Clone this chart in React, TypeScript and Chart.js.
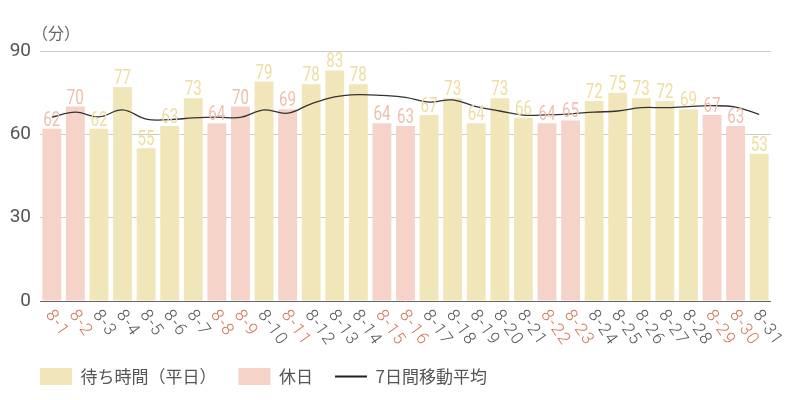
import { useEffect, useRef } from "react";
import { Chart, registerables } from "chart.js";
Chart.register(...registerables);

const dates = [
  "8-1", "8-2", "8-3", "8-4", "8-5", "8-6", "8-7", "8-8", "8-9", "8-10",
  "8-11", "8-12", "8-13", "8-14", "8-15", "8-16", "8-17", "8-18", "8-19", "8-20",
  "8-21", "8-22", "8-23", "8-24", "8-25", "8-26", "8-27", "8-28", "8-29", "8-30", "8-31",
];
const waitMinutes = [62, 70, 62, 77, 55, 63, 73, 64, 70, 79, 69, 78, 83, 78, 64, 63, 67, 73, 64, 73, 66, 64, 65, 72, 75, 73, 72, 69, 67, 63, 53];
const holidays = ["8-1", "8-2", "8-8", "8-9", "8-11", "8-15", "8-16", "8-22", "8-23", "8-29", "8-30"];
const movingAvg = [66.2, 68.0, 66.3, 68.8, 65.5, 65.3, 65.9, 66.2, 66.1, 68.8, 67.6, 71.0, 73.5, 74.3, 74.0, 73.3, 71.6, 72.4, 70.0, 68.4, 66.9, 67.0, 67.4, 68.0, 68.4, 69.6, 69.6, 70.0, 70.3, 69.8, 67.2];
const yTicks = [0, 30, 60, 90];

const WEEKDAY = "#f1e6b9";
const WEEKDAY_TEXT = "#eedd9e";
const HOLIDAY = "#f6d3c8";
const HOLIDAY_TEXT = "#eebfae";
const CJK = '"Noto Sans CJK JP", "Noto Sans", sans-serif';

const isHoliday = (d: string) => holidays.includes(d);

// value labels on top of bars, rotated date labels, unit label
const decorations = {
  id: "decorations",
  afterLayout(chart: any) {
    // nudge the legend to line up with the plot's left edge
    const lg = chart.legend;
    if (!lg) return;
    lg.left += 10;
    lg.right += 10;
    lg.top += 3;
    lg.bottom += 3;
  },
  afterDatasetsDraw(chart: any) {
    const { ctx, chartArea } = chart;
    ctx.save();
    ctx.font = `21px Roboto, sans-serif`;
    ctx.textAlign = "center";
    ctx.textBaseline = "alphabetic";
    [0, 1].forEach((di) => {
      const meta = chart.getDatasetMeta(di);
      meta.data.forEach((el: any, i: number) => {
        const v = chart.data.datasets[di].data[i];
        if (v == null) return;
        ctx.save();
        ctx.translate(el.x, el.y - 3);
        ctx.scale(0.72, 1);
        ctx.fillStyle = di === 0 ? WEEKDAY_TEXT : HOLIDAY_TEXT;
        ctx.fillText(String(v), 0, 0);
        ctx.restore();
      });
    });

    const xs = chart.scales.x;
    ctx.font = `300 17px Roboto, "DejaVu Sans", sans-serif`;
    (ctx as any).letterSpacing = "1.5px";
    ctx.textAlign = "left";
    ctx.textBaseline = "middle";
    dates.forEach((d, i) => {
      const px = xs.getPixelForValue(i);
      ctx.save();
      ctx.translate(px - 3, chartArea.bottom + 11);
      ctx.rotate((55 * Math.PI) / 180);
      ctx.fillStyle = isHoliday(d) ? "#d0765a" : "#555555";
      ctx.fillText(d, 0, 0);
      ctx.restore();
    });
    (ctx as any).letterSpacing = "0px";

    ctx.font = `16px ${CJK}`;
    ctx.fillStyle = "#666666";
    ctx.textAlign = "left";
    ctx.fillText("（分）", chartArea.left - 8, chartArea.top - 18);
    ctx.restore();
  },
};

export default function App() {
  const canvasRef = useRef<HTMLCanvasElement | null>(null);

  useEffect(() => {
    if (!canvasRef.current) return;
    const ctx = canvasRef.current.getContext("2d");
    if (!ctx) return;

    const chart = new Chart(ctx, {
      type: "bar",
      data: {
        labels: dates,
        datasets: [
          {
            type: "bar",
            label: "待ち時間（平日）",
            data: waitMinutes.map((v, i) => (isHoliday(dates[i]) ? null : v)),
            backgroundColor: WEEKDAY,
            order: 1,
          },
          {
            type: "bar",
            label: "休日",
            data: waitMinutes.map((v, i) => (isHoliday(dates[i]) ? v : null)),
            backgroundColor: HOLIDAY,
            order: 1,
          },
          {
            type: "line",
            label: "7日間移動平均",
            data: movingAvg,
            borderColor: "#333333",
            borderWidth: 1.3,
            pointRadius: 0,
            tension: 0.4,
            fill: false,
            order: 0,
          },
        ] as any,
      },
      options: {
        responsive: true,
        maintainAspectRatio: false,
        animation: false,
        layout: { padding: { top: 43, right: 21, left: 0, bottom: 0 } },
        datasets: { bar: { grouped: false, categoryPercentage: 1, barPercentage: 0.8 } },
        scales: {
          x: {
            grid: { display: false },
            border: { display: false },
            ticks: { display: false },
            afterFit: (s: any) => { s.height = 42; },
          },
          y: {
            min: 0,
            max: 90,
            afterBuildTicks: (s: any) => { s.ticks = yTicks.map((value) => ({ value })); },
            afterFit: (s: any) => { s.width = 32; },
            border: { display: false },
            grid: {
              drawTicks: false,
              color: (c: any) => (c.tick && c.tick.value === 0 ? "#666666" : "#cccccc"),
              lineWidth: 1,
            },
            ticks: { padding: 9, color: "#555555", font: { family: "Roboto", size: 19 } },
          },
        },
        plugins: {
          tooltip: { enabled: false },
          legend: {
            position: "bottom",
            align: "start",
            labels: {
              usePointStyle: true,
              pointStyleWidth: 32,
              boxHeight: 17,
              padding: 22,
              color: "#555555",
              font: { family: CJK, size: 17 },
              generateLabels: (c: any) =>
                c.data.datasets.map((ds: any, i: number) => ({
                  text: ds.label,
                  fillStyle: ds.type === "line" ? "#222222" : ds.backgroundColor,
                  strokeStyle: ds.type === "line" ? "#222222" : ds.backgroundColor,
                  lineWidth: ds.type === "line" ? 2 : 0,
                  pointStyle: ds.type === "line" ? "line" : "rect",
                  fontColor: "#555555",
                  hidden: false,
                  datasetIndex: i,
                })),
            },
          },
        },
      },
      plugins: [decorations],
    });

    return () => chart.destroy();
  }, []);

  return (
    <div style={{ width: 784, height: 384 }}>
      <canvas ref={canvasRef} />
    </div>
  );
}
